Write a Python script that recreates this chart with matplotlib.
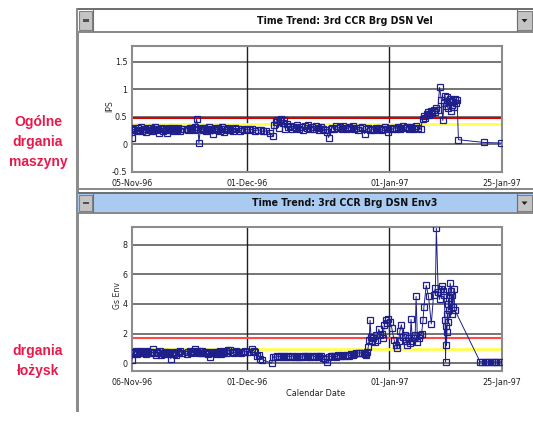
import matplotlib
matplotlib.use('Agg')
import matplotlib.pyplot as plt
from matplotlib.patches import Rectangle, Polygon

# ---------------- data (days since 01-Nov-96) ----------------
top_day = [5.0, 5.2, 5.5, 5.8, 6.1, 6.4, 6.7, 7.0, 7.3, 7.6, 7.9, 8.2, 8.5, 8.8, 9.1, 9.4, 9.7, 10.0,
           10.3, 10.6, 10.9, 11.2, 11.5, 11.8, 12.1, 12.4, 12.7, 13.0, 13.3, 13.6, 13.9, 14.2, 14.5,
           14.8, 15.1, 15.4, 15.7, 16.0, 17.0, 17.3, 17.6, 17.9, 18.2, 18.5, 18.8, 19.1, 19.4, 19.6,
           19.9, 20.2, 20.5, 20.8, 21.1, 21.4, 21.7, 22.0, 22.3, 22.6, 22.9, 23.2, 23.5, 23.8, 24.1,
           24.4, 24.7, 25.0, 25.3, 25.6, 25.9, 26.3, 26.7, 27.1, 27.5, 28.0, 28.5, 29.0, 29.5, 30.0,
           30.6, 31.2, 31.8, 32.4, 33.0, 33.6, 34.2, 35.0, 35.7, 36.0, 36.3, 36.6, 36.9, 37.2, 37.5,
           37.8, 38.1, 38.4, 38.7, 39.0, 39.4, 39.8, 40.2, 40.6, 41.0, 41.4, 41.8, 42.2, 42.6, 43.0,
           43.4, 43.8, 44.2, 44.6, 45.0, 45.4, 45.8, 46.2, 46.6, 47.0, 47.4, 47.8, 48.2, 48.6, 49.0,
           49.4, 49.8, 50.2, 50.6, 51.0, 51.4, 51.8, 52.2, 52.6, 53.0, 53.4, 53.8, 54.2, 54.6, 55.0,
           55.6, 56.0, 56.4, 56.8, 57.2, 57.6, 58.0, 58.4, 58.8, 59.2, 59.6, 60.0, 60.4, 60.8, 61.2,
           61.6, 62.0, 62.4, 62.8, 63.2, 63.6, 64.0, 64.4, 64.8, 65.2, 65.6, 66.0, 66.4, 66.8, 67.2,
           67.8, 68.2, 68.5, 68.8, 69.1, 69.4, 69.7, 70.0, 70.3, 70.6, 70.9, 71.2, 71.5, 71.9, 72.3,
           72.6, 72.9, 73.1, 73.3, 73.5, 73.7, 73.9, 74.1, 74.3, 74.5, 74.7, 74.9, 75.1, 75.3, 75.5,
           75.7, 76.0, 81.5, 85.3]
top_ips = [0.12, 0.28, 0.25, 0.30, 0.24, 0.29, 0.26, 0.31, 0.23, 0.28, 0.27, 0.22, 0.30, 0.26, 0.29,
           0.24, 0.27, 0.31, 0.25, 0.28, 0.20, 0.27, 0.30, 0.24, 0.28, 0.26, 0.21, 0.29, 0.25, 0.28,
           0.30, 0.23, 0.27, 0.26, 0.29, 0.24, 0.28, 0.27, 0.28, 0.26, 0.30, 0.27, 0.29, 0.25, 0.31,
           0.45, 0.28, 0.02, 0.27, 0.30, 0.26, 0.29, 0.24, 0.28, 0.31, 0.25, 0.27, 0.18, 0.28, 0.30,
           0.26, 0.29, 0.24, 0.27, 0.31, 0.22, 0.28, 0.26, 0.30, 0.25, 0.28, 0.24, 0.29, 0.27, 0.23,
           0.28, 0.26, 0.27, 0.25, 0.27, 0.24, 0.26, 0.25, 0.23, 0.24, 0.20, 0.15, 0.35, 0.40, 0.44,
           0.30, 0.42, 0.45, 0.38, 0.43, 0.28, 0.36, 0.31, 0.33, 0.27, 0.32, 0.29, 0.34, 0.28, 0.31,
           0.26, 0.33, 0.29, 0.35, 0.28, 0.31, 0.27, 0.33, 0.30, 0.26, 0.32, 0.28, 0.25, 0.22, 0.12,
           0.27, 0.30, 0.28, 0.33, 0.29, 0.31, 0.27, 0.33, 0.30, 0.28, 0.32, 0.29, 0.33, 0.27, 0.30,
           0.26, 0.29, 0.31, 0.19, 0.27, 0.29, 0.25, 0.28, 0.26, 0.30, 0.27, 0.29, 0.26, 0.28, 0.31,
           0.27, 0.22, 0.29, 0.27, 0.30, 0.28, 0.32, 0.27, 0.30, 0.33, 0.29, 0.31, 0.28, 0.32, 0.30,
           0.27, 0.33, 0.30, 0.27, 0.45, 0.52, 0.47, 0.55, 0.58, 0.53, 0.60, 0.56, 0.62, 0.58, 0.65,
           0.62, 1.03, 0.80, 0.43, 0.75, 0.88, 0.70, 0.85, 0.65, 0.78, 0.82, 0.60, 0.76, 0.72, 0.80,
           0.68, 0.82, 0.75, 0.80, 0.08, 0.03, 0.02]

bot_day = [5.0, 5.3, 5.6, 5.9, 6.2, 6.5, 6.8, 7.1, 7.4, 7.7, 8.0, 8.3, 8.6, 8.9, 9.2, 9.6, 9.9, 10.2,
           10.5, 10.8, 11.1, 11.4, 11.7, 12.0, 12.3, 12.6, 12.9, 13.2, 13.5, 13.8, 14.1, 14.4, 14.7,
           15.0, 15.3, 15.6, 15.9, 17.0, 17.3, 17.6, 17.9, 18.2, 18.5, 18.8, 19.1, 19.4, 19.7, 20.0,
           20.3, 20.6, 20.9, 21.2, 21.5, 21.8, 22.1, 22.4, 22.7, 23.0, 23.3, 23.6, 23.9, 24.2, 24.5,
           24.8, 25.1, 25.4, 25.7, 26.0, 26.4, 26.8, 27.2, 27.6, 28.0, 28.4, 28.8, 29.2, 29.6, 30.0,
           30.5, 31.1, 31.5, 31.9, 32.2, 32.6, 32.9, 33.3, 35.4, 35.8, 36.2, 36.6, 37.0, 37.4, 37.8,
           38.2, 38.6, 39.0, 39.4, 39.8, 40.2, 40.6, 41.0, 41.4, 41.8, 42.2, 42.6, 43.0, 43.4, 43.8,
           44.2, 44.6, 45.0, 45.4, 45.8, 46.2, 46.6, 47.0, 47.4, 47.8, 48.2, 48.6, 49.0, 49.4, 49.8,
           50.2, 50.6, 51.0, 51.4, 51.8, 52.2, 52.6, 53.0, 53.4, 53.8, 54.2, 54.6, 55.0, 55.4, 55.8,
           56.0, 56.2, 56.4, 56.6, 56.8, 57.0, 57.2, 57.5, 57.8, 58.1, 58.4, 58.7, 59.0, 59.3, 59.6,
           59.9, 60.2, 60.5, 60.8, 61.1, 61.5, 62.0, 62.4, 62.7, 63.0, 63.3, 63.6, 64.0, 64.3, 64.6,
           64.9, 65.2, 65.5, 65.7, 66.0, 66.3, 66.6, 66.8, 67.1, 67.4, 67.7, 68.0, 68.3, 68.5, 69.0,
           69.5, 70.1, 70.6, 71.0, 71.2, 71.6, 71.9, 72.2, 72.4, 72.7, 72.9, 73.1, 73.2, 73.3, 73.4,
           73.5, 73.6, 73.7, 73.8, 73.9, 74.0, 74.2, 74.4, 74.5, 74.6, 74.8, 75.0, 75.2, 80.7, 81.2,
           81.7, 82.2, 82.7, 83.2, 83.7, 84.2, 84.7, 85.2]
bot_env = [0.20, 0.75, 0.70, 0.80, 0.65, 0.78, 0.72, 0.82, 0.68, 0.76, 0.62, 0.80, 0.74, 0.70, 0.78,
           0.95, 0.72, 0.58, 0.76, 0.66, 0.80, 0.55, 0.72, 0.64, 0.78, 0.60, 0.74, 0.68, 0.30, 0.72,
           0.62, 0.78, 0.56, 0.74, 0.66, 0.80, 0.70, 0.62, 0.74, 0.80, 0.68, 0.76, 0.82, 0.95, 0.78,
           0.70, 0.84, 0.72, 0.80, 0.66, 0.76, 0.70, 0.62, 0.74, 0.40, 0.72, 0.66, 0.78, 0.60, 0.74,
           0.70, 0.80, 0.64, 0.76, 0.72, 0.82, 0.68, 0.90, 0.88, 0.76, 0.70, 0.80, 0.74, 0.78, 0.72,
           0.76, 0.80, 0.74, 0.78, 0.95, 0.85, 0.75, 0.48, 0.55, 0.30, 0.25, 0.00, 0.45, 0.40, 0.48,
           0.44, 0.50, 0.42, 0.46, 0.40, 0.48, 0.44, 0.50, 0.45, 0.42, 0.48, 0.44, 0.40, 0.50, 0.46,
           0.43, 0.48, 0.40, 0.52, 0.45, 0.48, 0.42, 0.50, 0.46, 0.38, 0.30, 0.10, 0.40, 0.46, 0.52,
           0.48, 0.44, 0.55, 0.50, 0.46, 0.55, 0.52, 0.58, 0.50, 0.60, 0.56, 0.62, 0.66, 0.70, 0.68,
           0.72, 0.66, 0.60, 0.55, 0.75, 1.10, 1.60, 2.90, 1.80, 1.50, 1.70, 1.40, 1.90, 1.60, 2.30,
           1.90, 2.00, 1.70, 2.60, 2.90, 2.70, 3.00, 2.80, 2.40, 1.60, 1.20, 1.00, 1.50, 2.20, 2.60,
           1.80, 1.90, 1.50, 1.20, 1.70, 1.35, 2.95, 1.50, 1.70, 1.90, 4.50, 1.45, 1.70, 1.90, 2.00,
           2.90, 3.80, 5.25, 4.50, 2.65, 4.60, 5.10, 9.10, 4.80, 4.30, 5.00, 5.20, 4.90, 4.60, 2.90,
           0.10, 2.50, 1.20, 2.10, 3.30, 2.80, 4.00, 4.40, 3.60, 5.40, 4.90, 3.30, 4.60, 3.80, 5.00,
           3.60, 0.10, 0.10, 0.10, 0.10, 0.10, 0.10, 0.10, 0.10, 0.10, 0.10]

date_ticks = [5.0, 30.0, 61.0, 85.4]
top_date_labels = ['05-Nov-96', '01-Dec-96', '01-Jan-97', '25-Jan-97']
bot_date_labels = ['06-Nov-96', '01-Dec-96', '01-Jan-97', '25-Jan-97']
top_yticks = [-0.5, 0, 0.5, 1, 1.5]
top_yticklabels = ['-0.5', '0', '0.5', '1', '1.5']
bot_yticks = [0, 2, 4, 6, 8]
bot_yticklabels = ['0', '2', '4', '6', '8']
top_alarm, top_alert = 0.48, 0.37
bot_alarm, bot_alert = 1.72, 0.98
top_title = 'Time Trend: 3rd CCR Brg DSN Vel'
bot_title = 'Time Trend: 3rd CCR Brg DSN Env3'
top_side = ['Ogólne', 'drgania', 'maszyny']
bot_side = ['drgania', 'łożysk']

# ---------------- figure ----------------
W, H = 533, 423
COND = ['DejaVu Sans', 'Liberation Sans']
SANS = ['Liberation Sans', 'DejaVu Sans']
NAVY = '#1f1f8c'
PINK = '#e8194b'

fig = plt.figure(figsize=(W / 100, H / 100), dpi=100)
fig.patch.set_facecolor('white')
bg = fig.add_axes([0, 0, 1, 1], zorder=0)
bg.set_xlim(0, W)
bg.set_ylim(H, 0)
bg.axis('off')


def rect(x0, y0, x1, y1, fc, ec='none', lw=0, z=1):
    bg.add_patch(Rectangle((x0, y0), x1 - x0, y1 - y0, facecolor=fc, edgecolor=ec, linewidth=lw, zorder=z))


def title_bar(y0, y1, fc, text):
    rect(78, y0 - 2, 533, y0, '#707070', z=1)
    rect(78, y0, 533, y1, fc, z=1)
    rect(78, y1, 533, y1 + 2, '#8a8a8a', z=1)
    rect(79, y0 + 1, 92, y1 - 1, '#c4c4c4', ec='#808080', lw=0.8, z=2)
    rect(82.5, (y0 + y1) / 2 - 1.2, 88.5, (y0 + y1) / 2 + 1.2, '#505050', z=3)
    rect(517, y0 + 1, 532, y1 - 1, '#c4c4c4', ec='#808080', lw=0.8, z=2)
    cy = (y0 + y1) / 2
    bg.add_patch(Polygon([[521.5, cy - 1.5], [527.5, cy - 1.5], [524.5, cy + 2]], closed=True,
                         facecolor='#202020', edgecolor='none', zorder=3))
    bg.plot([92.5, 92.5], [y0, y1], color='#707070', lw=0.8, zorder=2)
    bg.plot([516.5, 516.5], [y0, y1], color='#707070', lw=0.8, zorder=2)
    bg.text(345, cy + 0.5, text, ha='center', va='center', fontsize=7.6, fontweight='bold',
            family=COND, fontstretch='condensed', color='#101010', zorder=4)


rect(76, 8, 79, 412, '#8c8c8c', z=1)
title_bar(10, 31, 'white', top_title)
rect(78, 188, 533, 190, '#8a8a8a', z=1)
title_bar(194, 212, '#a9cbf2', bot_title)

for i, t in enumerate(top_side):
    bg.text(38, 122 + i * 20, t, ha='center', va='center', fontsize=10, fontweight='bold',
            family=SANS, color=PINK)
for i, t in enumerate(bot_side):
    bg.text(38, 351 + i * 19.5, t, ha='center', va='center', fontsize=10, fontweight='bold',
            family=SANS, color=PINK)


def chart(top_px, bot_px, days, vals, ylim, yticks, yticklabels, xlabels, alarm, alert,
          alarm_color, ylabel, ylabel_x):
    left, right = 131.7, 501.7
    ax = fig.add_axes([left / W, 1 - bot_px / H, (right - left) / W, (bot_px - top_px) / H], zorder=2)
    ax.set_facecolor('white')
    ax.set_xlim(5.0, 85.4)
    ax.set_ylim(*ylim)
    for y in yticks:
        if y > ylim[0] + 0.01:
            ax.axhline(y, color='#6a6a6a', lw=1.3, zorder=1)
    for d in date_ticks[1:3]:
        ax.axvline(d, color='#202020', lw=1.0, zorder=1)
    ax.axhline(alarm, color=alarm_color, lw=1.5, zorder=2)
    ax.axhline(alert, color='#ffff50', lw=2.0, zorder=2)
    ax.plot(days, vals, color=NAVY, lw=0.7, marker='s', ms=3.8, mfc='none', mec=NAVY, mew=0.9,
            zorder=3, clip_on=True)
    ax.set_yticks(yticks)
    ax.set_yticklabels(yticklabels)
    ax.set_xticks(date_ticks)
    ax.set_xticklabels(xlabels)
    ax.tick_params(length=0, labelsize=6.4, colors='#202020')
    ax.tick_params(axis='x', pad=5.5)
    ax.tick_params(axis='y', pad=3)
    for lab in ax.get_xticklabels() + ax.get_yticklabels():
        lab.set_family(COND)
        lab.set_fontstretch('condensed')
    for s in ax.spines.values():
        s.set_color('#8c8c8c')
        s.set_linewidth(1.5)
    bg.text(ylabel_x, (top_px + bot_px) / 2 - 3, ylabel, rotation=90, ha='center', va='center',
            fontsize=6.2, family=COND, fontstretch='condensed', color='#303030')
    return ax


ax1 = chart(45.7, 171.7, top_day, top_ips, (-0.502, 1.79), top_yticks, top_yticklabels,
            top_date_labels, top_alarm, top_alert, '#d80000', 'IPS', 109.5)
ax2 = chart(226.7, 370.7, bot_day, bot_env, (-0.5, 9.2), bot_yticks, bot_yticklabels,
            bot_date_labels, bot_alarm, bot_alert, '#ff4848', 'Gs Env', 117.5)
bg.text(316, 393, 'Calendar Date', ha='center', va='center', fontsize=6.6, family=COND,
        fontstretch='condensed', color='#202020')

fig.savefig('out.png', dpi=100, facecolor='white')
